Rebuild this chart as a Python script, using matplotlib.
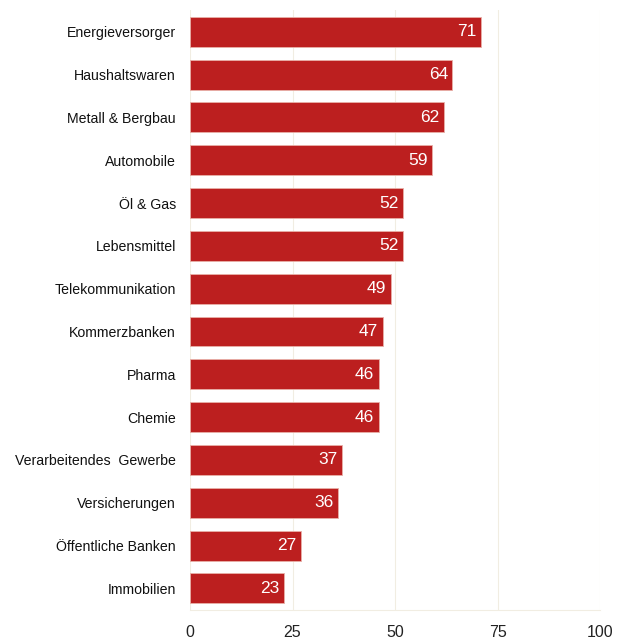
import matplotlib.pyplot as plt

categories = ['Energieversorger', 'Haushaltswaren', 'Metall & Bergbau', 'Automobile',
              'Öl & Gas', 'Lebensmittel', 'Telekommunikation', 'Kommerzbanken',
              'Pharma', 'Chemie', 'Verarbeitendes  Gewerbe', 'Versicherungen',
              'Öffentliche Banken', 'Immobilien']
values = [71, 64, 62, 59, 52, 52, 49, 47, 46, 46, 37, 36, 27, 23]
xticks = [0, 25, 50, 75, 100]

plt.rcParams['font.family'] = ['Liberation Sans', 'DejaVu Sans']

fig = plt.figure(figsize=(6.3, 6.42), dpi=100)
ax = fig.add_axes([0.3016, 0.05, 0.651, 0.934])

y = list(range(len(categories)))
ax.barh(y, values, height=0.7, color='#bc1f1f', edgecolor='#e8b0a8', linewidth=0.6, zorder=3)

for yi, v in zip(y, values):
    ax.text(v - 1.1, yi, str(v), ha='right', va='center', color='white', fontsize=12.5, zorder=4)

ax.set_xlim(0, 100)
ax.set_ylim(len(categories) - 0.5, -0.5)
ax.set_yticks(y)
ax.set_yticklabels(categories, fontsize=10.2, color='#111111')
ax.set_xticks(xticks)
ax.set_xticklabels([str(t) for t in xticks], fontsize=11.5, color='#222222')

ax.grid(axis='x', color='#f1ede2', linewidth=0.8, zorder=0)
for s in ['top', 'right', 'left']:
    ax.spines[s].set_visible(False)
ax.spines['bottom'].set_color('#f1ede2')
ax.tick_params(axis='y', length=0, pad=10)
ax.tick_params(axis='x', length=0, pad=11)

fig.savefig('out.png', dpi=100)
